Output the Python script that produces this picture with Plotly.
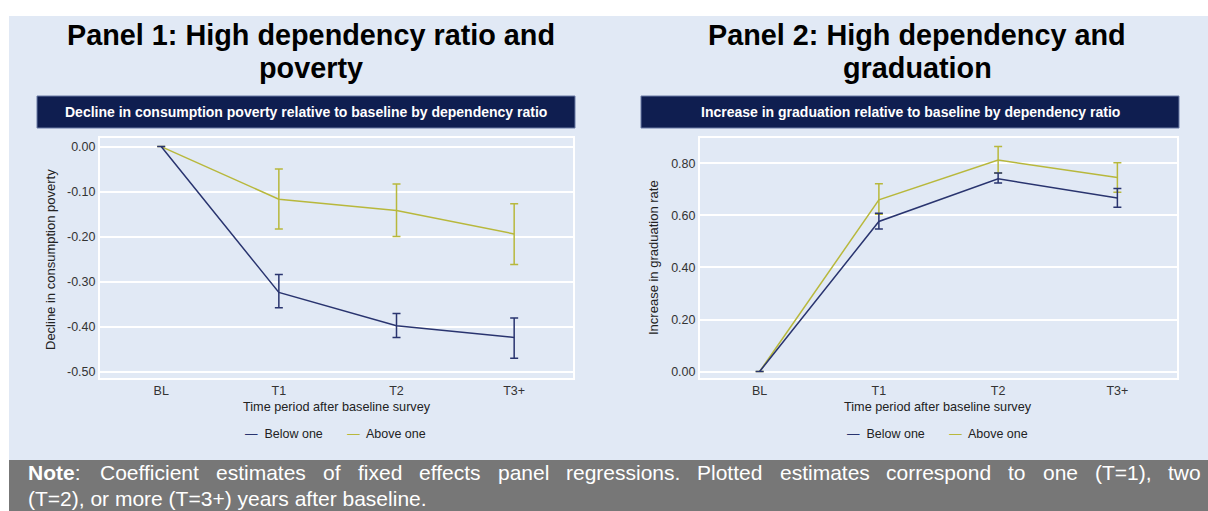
import plotly.graph_objects as go

W, H = 1208, 511
FONT = "Arial, 'Liberation Sans', sans-serif"

# ---- data -------------------------------------------------------------
periods = ["BL", "T1", "T2", "T3+"]

# Panel 1: decline in consumption poverty
pov_below = [0.0, -0.324, -0.398, -0.424]
pov_below_lo = [0.0, -0.358, -0.424, -0.470]
pov_below_hi = [0.0, -0.284, -0.371, -0.381]
pov_above = [0.0, -0.117, -0.142, -0.194]
pov_above_lo = [0.0, -0.183, -0.200, -0.262]
pov_above_hi = [0.0, -0.050, -0.083, -0.127]

# Panel 2: increase in graduation rate
grad_below = [0.0, 0.577, 0.741, 0.667]
grad_below_lo = [0.0, 0.548, 0.725, 0.632]
grad_below_hi = [0.0, 0.609, 0.763, 0.704]
grad_above = [0.0, 0.660, 0.813, 0.746]
grad_above_lo = [0.0, 0.605, 0.763, 0.689]
grad_above_hi = [0.0, 0.722, 0.865, 0.803]

pov_ticks = [0.0, -0.1, -0.2, -0.3, -0.4, -0.5]
pov_ticklabels = ["0.00", "-0.10", "-0.20", "-0.30", "-0.40", "-0.50"]
grad_ticks = [0.0, 0.2, 0.4, 0.6, 0.8]
grad_ticklabels = ["0.00", "0.20", "0.40", "0.60", "0.80"]

series_names = ["Below one", "Above one"]
NAVY = "#29346f"
OLIVE = "#b8b83c"
BG = "#e1e9f5"

NOTE_LINE1 = ("Note: Coefficient estimates of fixed effects panel regressions. "
              "Plotted estimates correspond to one (T=1), two")
NOTE_LINE2 = "(T=2), or more (T=3+) years after baseline."


def px(x):
    return x / W


def py(y):
    return 1 - y / H


def add_series(fig, y, lo, hi, color, name, xa, ya):
    fig.add_trace(go.Scatter(
        x=periods, y=y, mode="lines", name=name,
        line=dict(color=color, width=1.5),
        error_y=dict(type="data", symmetric=False,
                     array=[h - v for h, v in zip(hi, y)],
                     arrayminus=[v - l for v, l in zip(y, lo)],
                     color=color, thickness=1.5, width=4),
        xaxis=xa, yaxis=ya, showlegend=False,
    ))


fig = go.Figure()
add_series(fig, pov_above, pov_above_lo, pov_above_hi, OLIVE, series_names[1], "x", "y")
add_series(fig, pov_below, pov_below_lo, pov_below_hi, NAVY, series_names[0], "x", "y")
add_series(fig, grad_above, grad_above_lo, grad_above_hi, OLIVE, series_names[1], "x2", "y2")
add_series(fig, grad_below, grad_below_lo, grad_below_hi, NAVY, series_names[0], "x2", "y2")

axis_common = dict(showline=True, mirror=True, linecolor="white", linewidth=2,
                   gridcolor="white", gridwidth=1.5, zeroline=False,
                   ticks="", tickfont=dict(family=FONT, size=12.5, color="#333333"))

fig.update_layout(
    width=W, height=H, margin=dict(l=0, r=0, t=0, b=0),
    paper_bgcolor="white", plot_bgcolor=BG,
    font=dict(family=FONT),
    xaxis=dict(domain=[px(100), px(573)], anchor="y", type="category",
               range=[-0.52, 3.5], showgrid=False, **axis_common),
    yaxis=dict(domain=[py(378), py(138)], anchor="x", range=[-0.514, 0.019],
               showgrid=True, tickvals=pov_ticks, ticktext=pov_ticklabels, **axis_common),
    xaxis2=dict(domain=[px(700), px(1177)], anchor="y2", type="category",
                range=[-0.5, 3.5], showgrid=False, **axis_common),
    yaxis2=dict(domain=[py(378), py(138)], anchor="x2", range=[-0.025, 0.898],
                showgrid=True, tickvals=grad_ticks, ticktext=grad_ticklabels, **axis_common),
)

shapes = [
    # light blue page area
    dict(type="rect", xref="paper", yref="paper", x0=px(9), x1=px(W), y0=py(460), y1=py(16),
         fillcolor=BG, line=dict(width=0), layer="below"),
    # grey note bar
    dict(type="rect", xref="paper", yref="paper", x0=px(9), x1=px(W), y0=py(H), y1=py(460),
         fillcolor="#777777", line=dict(width=0), layer="below"),
    # navy subtitle boxes
    dict(type="rect", xref="paper", yref="paper", x0=px(37), x1=px(575), y0=py(128), y1=py(96),
         fillcolor="#0f1e50", line=dict(color="#6a7aa5", width=1)),
    dict(type="rect", xref="paper", yref="paper", x0=px(641), x1=px(1179), y0=py(128), y1=py(96),
         fillcolor="#0f1e50", line=dict(color="#6a7aa5", width=1)),
]
fig.update_layout(shapes=shapes)

ann = []


def text(x, y, s, size, color="black", bold=False, angle=0, xanchor="center"):
    ann.append(dict(xref="paper", yref="paper", x=px(x), y=py(y), text=(f"<b>{s}</b>" if bold else s),
                    showarrow=False, xanchor=xanchor, yanchor="middle", textangle=angle,
                    font=dict(family=FONT, size=size, color=color)))


# panel headings
text(311, 35, "Panel 1: High dependency ratio and", 28.8, bold=True)
text(311, 68, "poverty", 28.8, bold=True)
text(917, 35, "Panel 2: High dependency and", 28.8, bold=True)
text(917, 68, "graduation", 28.8, bold=True)
text(306, 112, "Decline in consumption poverty relative to baseline by dependency ratio", 14,
     color="white", bold=True)
text(910, 112, "Increase in graduation relative to baseline by dependency ratio", 14,
     color="white", bold=True)

# axis titles
text(50, 260, "Decline in consumption poverty", 13, color="#222222", angle=-90)
text(653, 258, "Increase in graduation rate", 13, color="#222222", angle=-90)
text(337, 407, "Time period after baseline survey", 12.7, color="#222222")
text(938, 407, "Time period after baseline survey", 12.7, color="#222222")

# legends
for cx in (335, 937):
    ann.append(dict(xref="paper", yref="paper", x=px(cx), y=py(434), showarrow=False,
                    xanchor="center", yanchor="middle",
                    font=dict(family=FONT, size=12.5, color="#222222"),
                    text=(f"<span style='color:{NAVY}'>—</span>  {series_names[0]}"
                          f"       <span style='color:{OLIVE}'>—</span>  {series_names[1]}")))

# note: first line justified across the bar, second line left aligned
HELV = {" ": 278, "(": 333, ")": 333, ",": 278, ".": 278, "=": 584, "+": 584, ":": 278,
        "1": 556, "2": 556, "3": 556, "T": 611, "C": 722, "P": 667, "N": 722,
        "a": 556, "b": 556, "c": 500, "d": 556, "e": 556, "f": 278, "g": 556, "h": 556,
        "i": 222, "l": 222, "m": 833, "n": 556, "o": 556, "p": 556, "r": 333, "s": 500,
        "t": 278, "u": 556, "v": 500, "w": 722, "x": 500, "y": 500}
NOTE_SIZE = 21
words = NOTE_LINE1.split(" ")
widths = [sum(HELV.get(c, 556) for c in w) * NOTE_SIZE / 1000 for w in words]
widths[0] += 0.06 * NOTE_SIZE * 4  # bold "Note"
left, right = 26, 1199
gap = (right - left - sum(widths)) / (len(words) - 1)
xpos = left
for w, wd in zip(words, widths):
    label = "<b>Note</b>:" if w == "Note:" else w
    ann.append(dict(xref="paper", yref="paper", x=px(xpos), y=py(472), text=label,
                    showarrow=False, xanchor="left", yanchor="middle",
                    font=dict(family=FONT, size=NOTE_SIZE, color="white")))
    xpos += wd + gap
text(26, 498, NOTE_LINE2, NOTE_SIZE, color="white", xanchor="left")

fig.update_layout(annotations=ann)
fig.write_html("out.html")
